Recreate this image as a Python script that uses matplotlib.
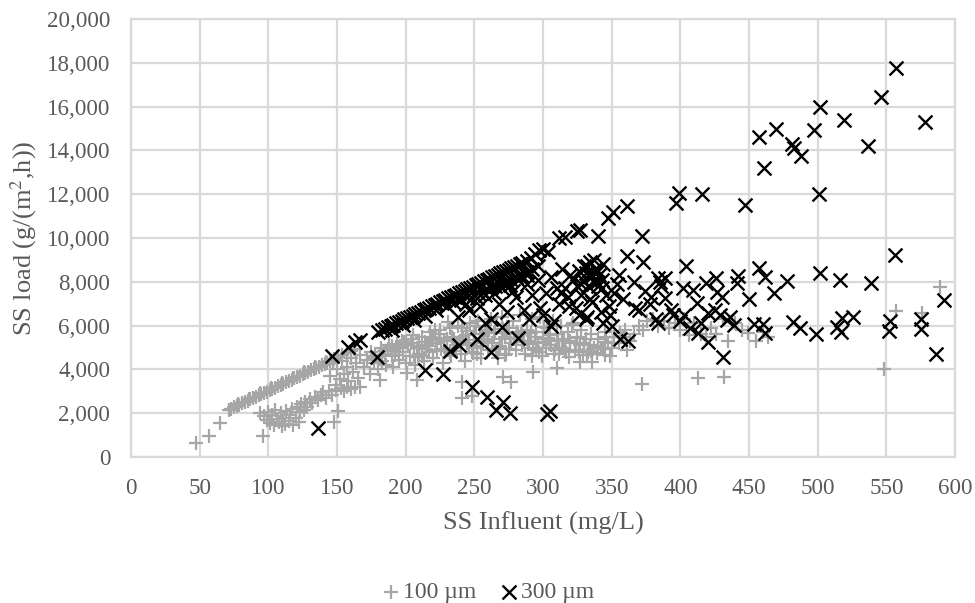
"""Scatter of SS load against SS influent for the 100 and 300 um screens."""

import matplotlib

matplotlib.use("Agg")

import matplotlib.pyplot as plt
from matplotlib.ticker import FuncFormatter, MultipleLocator

plt.rcParams["font.family"] = ["Liberation Serif", "DejaVu Serif"]

# 100 um: thin straight band at low influent
band_100_x = [71, 73, 75, 77, 79, 81, 83, 85, 87, 89, 91, 93, 95, 97, 99, 101, 103, 105, 107, 109, 111, 113,
              115, 117, 119, 121, 123, 125, 127, 129, 131, 133, 135, 137, 139, 141, 143, 145, 148, 151, 154,
              157, 160, 163, 78, 86, 94, 102, 110, 118, 126, 134, 142, 150]
band_100_y = [2150, 2210, 2270, 2330, 2390, 2450, 2510, 2570, 2630, 2690, 2750, 2810, 2870, 2930, 2990, 3050,
              3110, 3170, 3230, 3290, 3350, 3410, 3470, 3530, 3590, 3650, 3710, 3770, 3830, 3890, 3950, 4010,
              4070, 4130, 4190, 4250, 4310, 4370, 4460, 4550, 4640, 4730, 4820, 4910, 2420, 2640, 2900, 3130,
              3380, 3620, 3870, 4100, 4350, 4560]

# 100 um: low cluster and lower edge
low_100_x = [47, 57, 65, 94, 96, 97, 99, 100, 101, 103, 104, 105, 106, 108, 109, 110, 111, 112, 113, 115, 116,
             117, 118, 120, 121, 122, 123, 124, 126, 127, 128, 130, 132, 134, 136, 138, 140, 142, 144, 146, 148,
             149, 151, 153, 155, 157, 160, 163, 167, 181, 201, 208, 241, 241, 248, 271, 277, 293, 310, 327,
             336, 345, 361, 372, 413, 432, 548]
low_100_y = [640, 960, 1550, 2000, 960, 1850, 1700, 2050, 1550, 1900, 1450, 2150, 1750, 1600, 2000, 1400, 1800,
             1500, 2100, 1650, 1900, 2200, 1450, 1800, 2300, 1600, 2050, 2400, 2150, 2500, 2300, 2650, 2450,
             2750, 2600, 2850, 2950, 2700, 3000, 2850, 1600, 3050, 2100, 3150, 3000, 3200, 3100, 3200, 3200,
             3520, 3830, 3520, 2690, 3430, 2800, 3650, 3430, 3880, 4060, 4340, 4340, 4660, 4890, 3330, 3600,
             3650, 4020]

# 100 um: main blob
blob_100_x = [145, 147, 149, 150, 152, 154, 155, 157, 158, 160, 162, 164, 165, 167, 170, 172, 174, 175, 177,
              178, 180, 182, 183, 185, 186, 188, 190, 191, 193, 195, 197, 198, 200, 202, 203, 205, 207, 208,
              210, 212, 213, 215, 217, 218, 220, 222, 223, 225, 227, 228, 230, 232, 233, 235, 237, 238, 240,
              242, 243, 245, 247, 248, 250, 252, 253, 255, 257, 258, 260, 262, 263, 265, 267, 268, 270, 272,
              273, 275, 277, 278, 280, 282, 283, 285, 287, 288, 290, 292, 293, 295, 297, 298, 300, 302, 303,
              305, 307, 308, 310, 312, 313, 315, 317, 318, 320, 322, 323, 325, 327, 328, 330, 333, 335, 337,
              340, 342, 345, 347, 350, 352, 355, 358, 360, 363, 366, 370, 373, 376, 380, 384, 388, 392, 396,
              400, 403, 406, 410, 415, 419, 422, 426, 431, 435, 440, 445, 449, 455, 460, 464, 557, 576, 589,
              190, 200, 210, 220, 230, 240, 250, 260, 270, 280, 290, 300, 310, 320, 330, 340, 195, 215, 235,
              255, 275, 295, 315, 335, 205, 225, 245, 265, 285, 305, 325, 345, 192, 212, 232, 252, 272, 292,
              312, 332,
              176, 184, 194, 204, 214, 224, 234, 244, 254, 264, 274, 284, 294, 304, 314, 324, 334, 344, 181,
              189, 199, 209, 219, 229, 239, 249, 259, 269, 279, 289, 299, 309, 319, 329, 339, 349, 187, 196,
              206, 216, 226, 236, 246, 256, 266, 276, 286, 296, 306, 316, 326, 336, 346, 356, 221, 241, 261,
              281, 301, 321, 231, 251, 271, 291, 311, 331]
blob_100_y = [3700, 4300, 3300, 4000, 3550, 4400, 3800, 4100, 3450, 4500, 3900, 4300, 3600, 4650, 4100, 4450,
              3800, 4800, 4300, 4600, 4000, 5000, 4400, 4700, 4200, 5100, 4600, 4100, 5000, 4450, 5300, 4800,
              4300, 5100, 4600, 5400, 4200, 5000, 4700, 5500, 4400, 5100, 4800, 5700, 4500, 5200, 4900, 5800,
              4300, 5300, 5000, 5900, 4600, 5400, 5100, 6000, 4700, 5500, 4400, 5200, 6100, 4800, 5600, 5000,
              6200, 4500, 5400, 5800, 4900, 6300, 5200, 5700, 4500, 5000, 6400, 5500, 4700, 5900, 5200, 6200,
              4900, 5600, 6500, 5100, 4700, 5800, 5300, 6300, 5000, 5700, 4800, 6400, 5400, 5000, 5900, 5300,
              6200, 4700, 5600, 5000, 6000, 5400, 4800, 5700, 5200, 6100, 4900, 5500, 5100, 5800, 5200, 4800,
              5600, 5000, 5400, 5000, 5700, 5200, 5000, 5500, 5200, 5500, 5800, 5300, 5600, 6000, 5800, 6200,
              6300, 6000, 6200, 5900, 6100, 5800, 6300, 5570, 6100, 5600, 5500, 5900, 5620, 6300, 5300, 6100,
              5800, 5660, 5300, 5700, 5480, 6670, 6575, 7760,
              5050, 5250, 5050, 5350, 5400, 5250, 5350, 5300, 5400, 5450, 5300, 5250, 5350, 5300, 5150, 5050,
              4800, 4950, 5000, 5050, 4950, 4900, 5000, 4850, 5550, 5600, 5750, 5650, 5750, 5550, 5450, 5250,
              4650, 4600, 4750, 4700, 4650, 4600, 4700, 4650,
              4500, 4850, 5150, 5200, 5250, 5450, 5500, 5550, 5600, 5650, 5700, 5600, 5500, 5450, 5350, 5200,
              5100, 4950, 4650, 4900, 5250, 4550, 5450, 4850, 5250, 4750, 5700, 5050, 5400, 5150, 4600, 4900,
              4550, 4650, 4750, 4600, 4950, 5050, 4600, 5050, 4950, 4850, 5100, 5200, 4950, 5450, 5250, 5200,
              5100, 4900, 4800, 4700, 5500, 5650, 5800, 5900, 5800, 5700, 5950, 6050, 6150, 6000, 5850, 5650,
              5300, 5400]

# 300 um: dense straight band
band_300_x = [146, 158, 163, 167, 180, 183, 185, 187, 189, 191, 193, 195, 197, 199, 201, 203, 205, 207, 209,
              211, 213, 215, 217, 219, 221, 223, 225, 227, 229, 231, 233, 235, 237, 239, 241, 243, 245, 247,
              249, 251, 253, 255, 257, 259, 261, 263, 265, 267, 269, 271, 273, 275, 277, 279, 281, 283, 285,
              288, 291, 294, 297, 300, 304, 312, 316, 325, 327, 340, 347, 351, 361,
              190, 198, 206, 214, 222, 230, 235, 240, 245, 250, 253, 256, 259, 262, 265, 268, 271, 274, 277,
              280, 284, 288, 292, 296, 244, 252, 258, 264, 270, 276, 282, 288]
band_300_y = [4610, 5020, 5250, 5340, 5700, 5800, 5850, 5920, 5980, 6040, 6100, 6160, 6220, 6280, 6340, 6400,
              6460, 6520, 6580, 6640, 6700, 6760, 6820, 6880, 6940, 7000, 7060, 7120, 7180, 7240, 7300, 7350,
              7420, 7480, 7540, 7600, 7660, 7720, 7780, 7840, 7900, 7960, 8020, 8080, 8140, 8200, 8260, 8320,
              8380, 8440, 8500, 8560, 8620, 8680, 8740, 8800, 8860, 8950, 9100, 9250, 9450, 9500, 9350, 10000,
              10050, 10300, 10350, 10100, 10900, 11200, 11450,
              5800, 6050, 6250, 6450, 6700, 6900, 7050, 7150, 7300, 7400, 7500, 7550, 7650, 7750, 7800, 7900,
              7950, 8000, 8100, 8200, 8300, 8450, 8600, 8700, 7000, 7250, 7400, 7500, 7700, 7850, 8100, 8300]

# 300 um: scatter below the band
lower_300_x = [136, 179, 214, 227, 232, 239, 248, 252, 258, 259, 262, 266, 270, 271, 276, 282, 303, 305, 306,
               238, 246, 254, 262, 268, 274, 280, 286, 292, 298, 302, 288, 296, 284, 278, 290, 300, 308,
               312, 316, 320, 324, 328, 332, 336, 340, 344, 348, 352, 356, 310, 314, 318, 322, 326, 330,
               334, 338, 342, 346, 350, 354, 358, 362, 366, 370, 374, 378, 382, 386, 306, 313, 319, 325,
               331, 337, 343, 349, 355, 361, 367, 373, 379, 385, 326, 329, 332, 335, 338, 341, 344, 328,
               331, 334, 337, 340, 343, 333, 336, 339]
lower_300_y = [1320, 4570, 3970, 3790, 4840, 5110, 3200, 5390, 6120, 2740, 4800, 2150, 5940, 2510, 2010, 5430,
               1950, 2100, 5980, 6400, 6700, 6900, 6300, 7000, 6600, 7300, 6700, 7400, 6800, 7500, 7900, 8100,
               8200, 7600, 6300, 6500, 6200, 7000, 7700, 8300, 6800, 7400, 6400, 7100, 7800, 6100, 6900, 7500,
               5400, 7700, 8600, 7300, 8100, 6500, 8700, 7200, 8000, 6600, 7400, 6000, 7900, 7200, 5300, 8000,
               6700, 7600, 7000, 6300, 7800, 8200, 7500, 6900, 7800, 6300, 9000, 7700, 6500, 8300, 9200, 6800,
               8900, 7300, 8000, 8500, 8100, 8700, 8200, 8600, 8300, 8800, 7900, 8400, 8900, 8000, 8500, 8100,
               7800, 8300, 8000]

# 300 um: sparse points out to the right
right_300_x = [556, 404, 457, 462, 442, 441, 426, 419, 478, 502, 516, 539, 450, 468, 482, 487, 499, 514, 518,
               526, 517, 553, 552, 575, 575, 592, 586, 431, 462, 454, 460, 420, 413, 439, 434, 429, 430, 427,
               420, 412, 409, 402, 389, 384, 389, 393, 384, 403, 407, 397, 399, 416, 447, 457, 461, 470, 481,
               483, 488, 497, 502, 519, 537, 546, 557, 578, 501, 415, 425, 436, 395, 400, 372]
right_300_y = [9220, 8720, 8610, 8200, 8260, 7940, 8170, 7940, 8040, 8400, 8080, 7940, 7200, 7490, 6170, 5890,
               5620, 5930, 6350, 6400, 5710, 6210, 5750, 6300, 5840, 7170, 4700, 4570, 5660, 6070, 6070, 5250,
               5660, 6030, 6250, 6480, 7300, 7530, 6570, 7030, 7620, 7720, 7260, 8170, 8170, 6710, 6120, 6480,
               5890, 11600, 12050, 12000, 11500, 14600, 13200, 15000, 14300, 14100, 13750, 14950, 16000, 15400,
               14200, 16450, 17750, 15300, 12000, 6100, 6700, 6400, 6500, 6200, 10100]

tick_labels_x = list(range(0, 601, 50))
legend_names = ["100 µm", "300 µm"]

x_100 = band_100_x + low_100_x + blob_100_x
y_100 = band_100_y + low_100_y + blob_100_y
x_300 = band_300_x + lower_300_x + right_300_x
y_300 = band_300_y + lower_300_y + right_300_y

TEXT_COLOR = "#595959"

fig = plt.figure(figsize=(9.75, 6.03), dpi=100)
ax = fig.add_axes([131 / 975, 1 - 457 / 603, (955 - 131) / 975, (457 - 19) / 603])

ax.scatter(x_100, y_100, marker="+", s=88, color="#a6a6a6", linewidths=1.6,
           label=legend_names[0], clip_on=False, zorder=3)
ax.scatter(x_300, y_300, marker="x", s=100, color="black", linewidths=1.7,
           label=legend_names[1], clip_on=False, zorder=4)

ax.set_xlim(0, 600)
ax.set_ylim(0, 20000)
ax.set_xticks(tick_labels_x)
ax.yaxis.set_major_locator(MultipleLocator(2000))
ax.yaxis.set_major_formatter(FuncFormatter(lambda v, _: f"{int(v):,}"))
ax.grid(True, color="#d9d9d9", linewidth=1.6)
ax.set_axisbelow(True)
for spine in ax.spines.values():
    spine.set_color("#d9d9d9")
    spine.set_linewidth(1.6)
ax.tick_params(length=0, labelsize=16.6, labelcolor=TEXT_COLOR)
ax.tick_params(axis="x", pad=15)
ax.tick_params(axis="y", pad=15)

ax.set_xlabel("SS Influent (mg/L)", fontsize=19, color=TEXT_COLOR, va="center")
ax.xaxis.set_label_coords(0.5, (457 - 523) / 438)
ax.set_ylabel("SS load (g/(m$^{2}$,h))", fontsize=19, color=TEXT_COLOR, va="center",
              math_fontfamily="stix")
ax.yaxis.set_label_coords((24 - 131) / 824, 0.5)

fig.legend(loc="center", bbox_to_anchor=(487 / 975, 1 - 592 / 603), ncol=2, frameon=False,
           fontsize=17, labelcolor=TEXT_COLOR, handletextpad=0.0, columnspacing=0.9,
           handlelength=1.0, scatterpoints=1, borderpad=0)

fig.savefig("out.png", dpi=100)
